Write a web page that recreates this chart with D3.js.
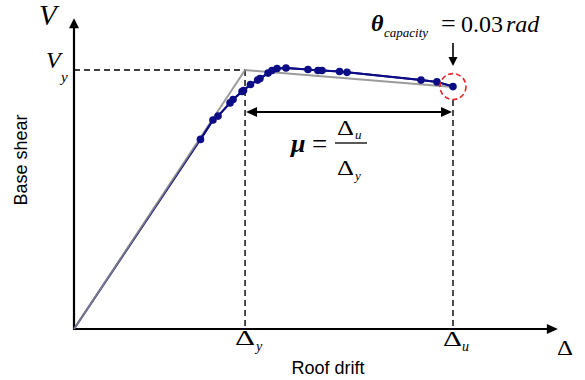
<!DOCTYPE html>
<html><head><meta charset="utf-8">
<script src="https://cdn.jsdelivr.net/npm/d3@7"></script>
<style>html,body{margin:0;padding:0;background:#fff;}svg{display:block;}</style>
</head><body>
<svg id="c" width="585" height="380"></svg>
<script>
// ---- data (roof drift ratio, normalised base shear V/Vy) ----
const curveDrift = [0.01001,0.01100,0.01140,0.01235,0.01259,0.01330,0.01342,0.01397,0.01453,0.01472,0.01536,0.01567,0.01607,0.01678,0.01852,0.01931,0.01963,0.02102,0.02161,0.02747,0.02873,0.03000];
const curveShear = [0.732,0.807,0.822,0.873,0.886,0.917,0.921,0.944,0.961,0.967,0.988,0.998,1.006,1.008,1.002,0.998,0.998,0.994,0.991,0.961,0.954,0.936];
const bilinDrift = [0, 0.01354, 0.03];
const bilinShear = [0, 1.0, 0.934];
const yieldDrift = 0.01354, ultDrift = 0.03, yieldShear = 1.0;
const axisMaxDrift = 0.0383, axisMaxShear = 1.2;
const xTitle = "Roof drift", yTitle = "Base shear";

const svg = d3.select("#c");
const x = d3.scaleLinear().domain([0, 0.03]).range([74, 453]);
const y = d3.scaleLinear().domain([0, 1]).range([329, 70]);
const serif = "'Liberation Serif','Times New Roman',serif";
const sans = "'Liberation Sans',Arial,sans-serif";

// dashed reference lines
const dash = "6,4";
svg.append("line").attr("x1", x(0)).attr("x2", x(yieldDrift)).attr("y1", y(yieldShear)).attr("y2", y(yieldShear))
  .attr("stroke", "#000").attr("stroke-width", 1.4).attr("stroke-dasharray", dash);
svg.append("line").attr("x1", x(yieldDrift)).attr("x2", x(yieldDrift)).attr("y1", y(yieldShear)).attr("y2", y(0))
  .attr("stroke", "#000").attr("stroke-width", 1.4).attr("stroke-dasharray", dash);
svg.append("line").attr("x1", x(ultDrift)).attr("x2", x(ultDrift)).attr("y1", y(bilinShear[2]) + 13).attr("y2", y(0))
  .attr("stroke", "#000").attr("stroke-width", 1.4).attr("stroke-dasharray", dash);

// axes
svg.append("line").attr("x1", x(0)).attr("x2", x(0)).attr("y1", y(0) + 1).attr("y2", y(axisMaxShear) + 8)
  .attr("stroke", "#000").attr("stroke-width", 2.2);
svg.append("path").attr("d", `M${x(0)},${y(axisMaxShear)} l-5,10 l10,0 z`).attr("fill", "#000");
svg.append("line").attr("x1", x(0) - 1).attr("x2", x(axisMaxDrift) - 8).attr("y1", y(0)).attr("y2", y(0))
  .attr("stroke", "#000").attr("stroke-width", 2.2);
svg.append("path").attr("d", `M${x(axisMaxDrift)},${y(0)} l-11,-5 l0,10 z`).attr("fill", "#000");

// pushover curve (blue) and bilinear idealisation (grey)
const curve = [[0, 0]].concat(curveDrift.map((d, i) => [d, curveShear[i]]));
const line = d3.line().x(d => x(d[0])).y(d => y(d[1]));
svg.append("path").datum(curve).attr("d", line).attr("fill", "none").attr("stroke", "#0c0c86").attr("stroke-width", 2);
svg.append("path").datum(bilinDrift.map((d, i) => [d, bilinShear[i]])).attr("d", line)
  .attr("fill", "none").attr("stroke", "#8a8a8a").attr("stroke-width", 2).attr("stroke-opacity", 0.85);
svg.append("path").datum(curve.slice(1)).attr("d", line).attr("fill", "none").attr("stroke", "#0c0c86").attr("stroke-width", 2);
svg.selectAll("circle.pt").data(curve.slice(1)).join("circle").attr("class", "pt")
  .attr("cx", d => x(d[0])).attr("cy", d => y(d[1])).attr("r", 3.8).attr("fill", "#0c0c86");

// red dashed circle at capacity
svg.append("circle").attr("cx", x(ultDrift)).attr("cy", y(curveShear[curveShear.length - 1]))
  .attr("r", 13).attr("fill", "none").attr("stroke", "#e8252b").attr("stroke-width", 1.6).attr("stroke-dasharray", "5,3");

// down arrow
const ax = x(ultDrift);
svg.append("line").attr("x1", ax).attr("x2", ax).attr("y1", 43).attr("y2", 58).attr("stroke", "#000").attr("stroke-width", 1.6);
svg.append("path").attr("d", `M${ax},66 l-4.5,-9 l9,0 z`).attr("fill", "#000");

// double arrow for ductility
const ay = 112;
svg.append("line").attr("x1", x(yieldDrift) + 8).attr("x2", x(ultDrift) - 8).attr("y1", ay).attr("y2", ay).attr("stroke", "#000").attr("stroke-width", 2);
svg.append("path").attr("d", `M${x(yieldDrift) + 1},${ay} l11,-5 l0,10 z`).attr("fill", "#000");
svg.append("path").attr("d", `M${x(ultDrift) - 1},${ay} l-11,-5 l0,10 z`).attr("fill", "#000");

// axis titles
svg.append("text").attr("x", 328).attr("y", 374).attr("text-anchor", "middle").attr("font-family", sans).attr("font-size", 18).text(xTitle);
svg.append("text").attr("transform", "translate(27,160) rotate(-90)").attr("text-anchor", "middle").attr("font-family", sans).attr("font-size", 18).text(yTitle);

// math labels
function t(xp, yp, txt, size, style, weight, len) {
  const e = svg.append("text").attr("x", xp).attr("y", yp).attr("font-family", serif).attr("font-size", size)
    .attr("font-style", style || "normal").attr("font-weight", weight || "normal").text(txt);
  if (len) e.attr("textLength", len).attr("lengthAdjust", "spacingAndGlyphs");
  return e;
}
t(39, 25, "V", 29, "italic");
t(46, 68, "V", 24, "italic");
t(61, 82, "y", 15, "italic");
// Δ tick labels
t(235, 345, "Δ", 20, null, null, 20);
t(256, 351, "y", 14, "italic");
t(443, 346, "Δ", 20, null, null, 19);
t(462, 351, "u", 14, "italic");
t(557, 355, "Δ", 22, null, null, 16);
// ductility formula
t(291, 152, "μ", 26, "italic", "bold");
t(312, 153, "=", 27);
svg.append("line").attr("x1", 335).attr("x2", 367).attr("y1", 143).attr("y2", 143).attr("stroke", "#000").attr("stroke-width", 1.3);
t(337, 135, "Δ", 20, null, null, 17);
t(355, 139, "u", 13, "italic");
t(337, 175, "Δ", 20, null, null, 17);
t(355, 180, "y", 13, "italic");
// theta capacity label
t(371, 31, "θ", 24, "italic", "bold");
t(384, 37, "capacity", 13, "italic");
t(441, 32, "=", 26);
t(461, 32, "0.03", 24);
t(506, 32, "rad", 24, "italic");
</script>
</body></html>
